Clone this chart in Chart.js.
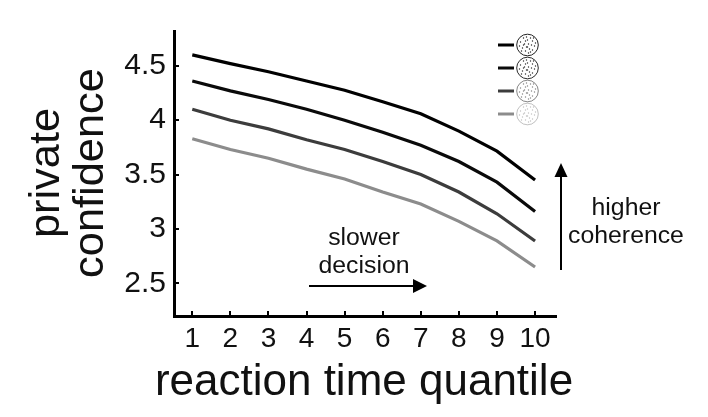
<!DOCTYPE html>
<html>
<head>
<meta charset="utf-8">
<style>
  html, body { margin: 0; padding: 0; background: #fff; }
  #wrap { width: 708px; height: 417px; }
</style>
<script src="https://cdn.jsdelivr.net/npm/chart.js@4"></script>
</head>
<body>
<div id="wrap"><canvas id="confidenceChart"></canvas></div>
<script>
const quantiles = [1, 2, 3, 4, 5, 6, 7, 8, 9, 10];
const yTickValues = [2.5, 3, 3.5, 4, 4.5];

const coherence1 = [4.60, 4.52, 4.445, 4.36, 4.275, 4.17, 4.06, 3.90, 3.715, 3.45];
const coherence2 = [4.36, 4.27, 4.19, 4.10, 4.00, 3.89, 3.77, 3.62, 3.43, 3.16];
const coherence3 = [4.10, 4.00, 3.92, 3.82, 3.73, 3.62, 3.50, 3.34, 3.14, 2.89];
const coherence4 = [3.83, 3.73, 3.65, 3.55, 3.46, 3.34, 3.23, 3.07, 2.89, 2.65];

const lineColors = ['#000000', '#0a0a0a', '#3c3c3c', '#8c8c8c'];
const dotAlpha = [1, 0.95, 0.55, 0.28];
const fontName = '"Liberation Sans", Arial, sans-serif';
const ink = '#111111';

// dot pattern inside the legend discs, offsets from disc centre
const discDots = [
    [-7, -3], [-5, 3], [-4, -7], [-3, -1], [-2, 6], [-1, 2], [0, -5], [1, -1], [1, 8], [2, 4],
    [3, -7], [4, 0], [5, -4], [5, 5], [7, 1], [8, -2], [-8, 1], [-6, 6], [-1, -8], [3, 7],
    [-4, 0], [6, -7], [0, 2], [-2, -4]
];

function toPoints(values) {
    return values.map((v, i) => ({ x: quantiles[i], y: v }));
}

// Arrows, side labels, axis titles and the disc legend
const annotations = {
    id: 'annotations',
    afterDraw(chart) {
        const ctx = chart.ctx;
        ctx.save();

        // legend
        lineColors.forEach((color, i) => {
            const cy = 45 + i * 23;
            ctx.strokeStyle = color;
            ctx.lineWidth = 3;
            ctx.beginPath();
            ctx.moveTo(498, cy);
            ctx.lineTo(514, cy);
            ctx.stroke();

            ctx.globalAlpha = dotAlpha[i];
            ctx.strokeStyle = '#222';
            ctx.lineWidth = 1;
            ctx.beginPath();
            ctx.arc(527.5, cy, 10.8, 0, Math.PI * 2);
            ctx.stroke();
            ctx.fillStyle = '#222';
            discDots.forEach(d => {
                ctx.beginPath();
                ctx.arc(527.5 + d[0], cy + d[1], 0.7, 0, Math.PI * 2);
                ctx.fill();
            });
            ctx.globalAlpha = 1;
        });

        ctx.strokeStyle = '#000';
        ctx.fillStyle = '#000';
        ctx.lineWidth = 2;

        // slower decision arrow
        ctx.beginPath();
        ctx.moveTo(309, 286);
        ctx.lineTo(416, 286);
        ctx.stroke();
        ctx.beginPath();
        ctx.moveTo(427, 286);
        ctx.lineTo(413, 279);
        ctx.lineTo(413, 293);
        ctx.closePath();
        ctx.fill();

        // higher coherence arrow
        ctx.beginPath();
        ctx.moveTo(561, 270);
        ctx.lineTo(561, 174);
        ctx.stroke();
        ctx.beginPath();
        ctx.moveTo(561, 163);
        ctx.lineTo(554.5, 177);
        ctx.lineTo(567.5, 177);
        ctx.closePath();
        ctx.fill();

        ctx.fillStyle = ink;
        ctx.font = '24.8px ' + fontName;
        ctx.textAlign = 'center';
        ctx.textBaseline = 'alphabetic';
        ctx.fillText('slower', 364, 245);
        ctx.fillText('decision', 364, 272.5);
        ctx.fillText('higher', 626, 215);
        ctx.fillText('coherence', 626, 242.5);

        // x axis title, drawn here so it can run wider than the plot
        ctx.font = '44px ' + fontName;
        ctx.fillText('reaction time quantile', 364, 395);

        // y axis title, two rotated lines
        ctx.font = '43.4px ' + fontName;
        ctx.translate(0, 173);
        ctx.rotate(-Math.PI / 2);
        ctx.fillText('private', 0, 59);
        ctx.fillText('confidence', 0, 103);

        ctx.restore();
    }
};

new Chart(document.getElementById('confidenceChart'), {
    type: 'line',
    data: {
        datasets: [coherence1, coherence2, coherence3, coherence4].map((values, i) => ({
            label: 'coherence ' + (i + 1),
            data: toPoints(values),
            borderColor: lineColors[i],
            borderWidth: 3.2,
            pointRadius: 0,
            tension: 0,
            fill: false
        }))
    },
    options: {
        responsive: true,
        maintainAspectRatio: false,
        animation: false,
        layout: { padding: { top: 30, right: 152, bottom: 0, left: 0 } },
        plugins: {
            legend: { display: false },
            tooltip: { enabled: false }
        },
        scales: {
            x: {
                type: 'linear',
                min: 0.52,
                max: 10.55,
                afterBuildTicks: scale => { scale.ticks = quantiles.map(v => ({ value: v })); },
                afterFit: scale => { scale.height = 101; },
                border: { color: '#000', width: 3 },
                grid: { drawOnChartArea: false, color: '#000', lineWidth: 2, tickLength: -5 },
                ticks: {
                    color: ink,
                    padding: 11,
                    maxRotation: 0,
                    autoSkip: false,
                    font: { family: fontName, size: 28 },
                    callback: v => String(v)
                }
            },
            y: {
                min: 2.2,
                max: 4.82,
                afterBuildTicks: scale => { scale.ticks = yTickValues.map(v => ({ value: v })); },
                afterFit: scale => { scale.width = 174; },
                border: { color: '#000', width: 3 },
                grid: { drawOnChartArea: false, color: '#000', lineWidth: 2, tickLength: -5 },
                ticks: {
                    color: ink,
                    padding: 13,
                    autoSkip: false,
                    font: { family: fontName, size: 30 },
                    callback: v => String(v)
                }
            }
        }
    },
    plugins: [annotations]
});
</script>
</body>
</html>
